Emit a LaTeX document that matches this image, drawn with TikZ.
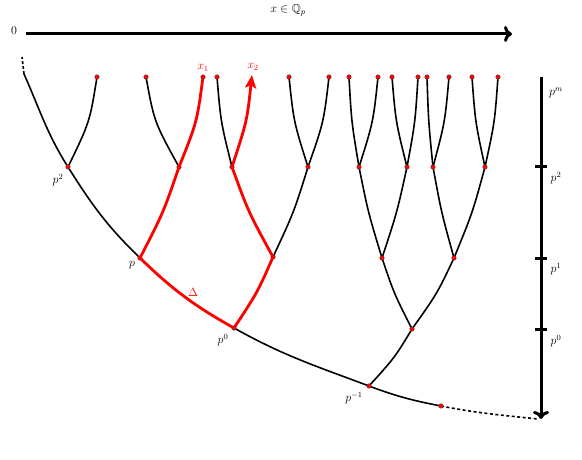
\documentclass[tikz,border=0pt]{standalone}
\usepackage{amssymb}
\usetikzlibrary{arrows.meta,calc}
\newcommand{\tbr}[3][tedge]{\draw[#1] let \p1=(#2), \p2=(#3) in (#2) .. controls ({\x1+0.6*(\x2-\x1)},{\y1+0.5*(\y2-\y1)}) .. (#3);}
\newcommand{\tlf}[3][tedge]{\draw[#1] let \p1=(#2), \p2=(#3) in (#2) .. controls ({\x1+0.75*(\x2-\x1)},{\y1+0.5*(\y2-\y1)}) .. (#3);}
\begin{document}
\begin{tikzpicture}[x=1pt,y=-1pt,
  tedge/.style={line width=1.6pt},
  redge/.style={line width=2.8pt, red},
  dot/.style={circle, fill=red, draw=black!75, line width=0.35pt, inner sep=0pt, minimum size=4.6pt},
  lab/.style={inner sep=1pt, font=\fontsize{11.5}{13}\selectfont},
  rlab/.style={inner sep=1pt, text=red, font=\fontsize{11.5}{13}\selectfont},
  bigarrow/.style={line width=3pt, -{Computer Modern Rightarrow[length=8pt,width=16pt]}},
  tick/.style={line width=3pt}]
\useasboundingbox (0,0) rectangle (582,460);
% coordinates
\coordinate (T0) at (22,57);
\coordinate (T1) at (24,74);
\coordinate (P2) at (68,167);
\coordinate (P1) at (140,258);
\coordinate (P0) at (234,328);
\coordinate (Pm1) at (369,386);
\coordinate (E) at (441,406);
\coordinate (F) at (538,419);
\coordinate (L1) at (97,77);
\coordinate (N) at (179,167);
\coordinate (L2) at (146,77);
\coordinate (X1) at (203,77);
\coordinate (Q) at (273,257);
\coordinate (M) at (232,167);
\coordinate (R) at (308,167);
\coordinate (L3) at (217,77);
\coordinate (X2) at (252,75);
\coordinate (L4) at (289,77);
\coordinate (L5) at (329,77);
\coordinate (A) at (412,329);
\coordinate (B1) at (382,258);
\coordinate (B2) at (454,258);
\coordinate (C1) at (359,167);
\coordinate (C2) at (407,167);
\coordinate (C3) at (433,167);
\coordinate (C4) at (485,167);
\coordinate (D1) at (349,77);
\coordinate (D2) at (378,77);
\coordinate (D3) at (392,77);
\coordinate (D4) at (418,77);
\coordinate (D5) at (427,77);
\coordinate (D6) at (449,77);
\coordinate (D7) at (472,77);
\coordinate (D8) at (498,77);
% top axis
\coordinate (AX0) at (26,34);
\coordinate (AX1) at (512,34);
\draw[bigarrow] (AX0) -- (AX1);
\node[lab] (zero) at (14,31) {$0$};
\node[lab] (xq) at (288,10) {$x\in\mathbb{Q}_p$};
% right scale bar
\coordinate (S0) at (541,77);
\coordinate (S1) at (541,419);
\draw[bigarrow] (S0) -- (S1);
\foreach \yy/\nm in {167/k2,258/k1,329/k0}{
  \coordinate (\nm a) at (535,\yy);
  \coordinate (\nm b) at (547,\yy);
  \draw[tick] (\nm a) -- (\nm b);
}
\node[lab] (sm) at (556,93) {$p^m$};
\node[lab] (s2) at (556,178) {$p^2$};
\node[lab] (s1) at (556,269) {$p^1$};
\node[lab] (s0) at (556,341) {$p^0$};
% trunk
\draw[tedge, dash pattern=on 3pt off 2pt] (T1) -- (T0);
\draw[tedge] (T1) to[out=-66,in=122.2] (P2) to[out=-57.8,in=135.9] (P1);
\draw[tedge] (P0) to[out=-29.2,in=159.4] (Pm1) to[out=-20.6,in=169] (E);
\draw[tedge, dash pattern=on 3pt off 2.5pt] (E) to[out=-11,in=174] (F);
% black branches
\tlf{P2}{L1}
\tlf{N}{L2}
\tlf{M}{L3}
\tbr{Q}{R}
\tlf{R}{L4}
\tlf{R}{L5}
\tbr{Pm1}{A}
\tbr{A}{B1}
\tbr{A}{B2}
\tbr{B1}{C1}
\tbr{B1}{C2}
\tbr{B2}{C3}
\tbr{B2}{C4}
\tlf{C1}{D1}
\tlf{C1}{D2}
\tlf{C2}{D3}
\tlf{C2}{D4}
\tlf{C3}{D5}
\tlf{C3}{D6}
\tlf{C4}{D7}
\tlf{C4}{D8}
% dots
\foreach \c in {L1,L2,L3,L4,L5,D1,D2,D3,D4,D5,D6,D7,D8,P2,R,C1,C2,C3,C4,B1,B2,A,Pm1,E,N,M,Q,P1}
  \node[dot] at (\c) {};
% red path
\draw[redge] (P1) to[out=-44.1,in=150.8] (P0);
\tbr[redge]{P1}{N}
\tlf[redge]{N}{X1}
\tbr[redge]{P0}{Q}
\tbr[redge]{Q}{M}
\tlf[redge,-{Stealth[length=13pt,width=11pt,inset=2.5pt]}]{M}{X2}
\node[dot] at (P0) {};
\node[dot] at (X1) {};
% labels
\node[rlab] (x1) at (203,68) {$x_1$};
\node[rlab] (x2) at (253,67) {$x_2$};
\node[rlab] (dl) at (193,292) {$\Delta$};
\node[lab] (lp2) at (58,180) {$p^2$};
\node[lab] (lp1) at (132,265) {$p$};
\node[lab] (lp0) at (223,340) {$p^0$};
\node[lab] (lpm1) at (354,398) {$p^{-1}$};
\end{tikzpicture}
\end{document}
